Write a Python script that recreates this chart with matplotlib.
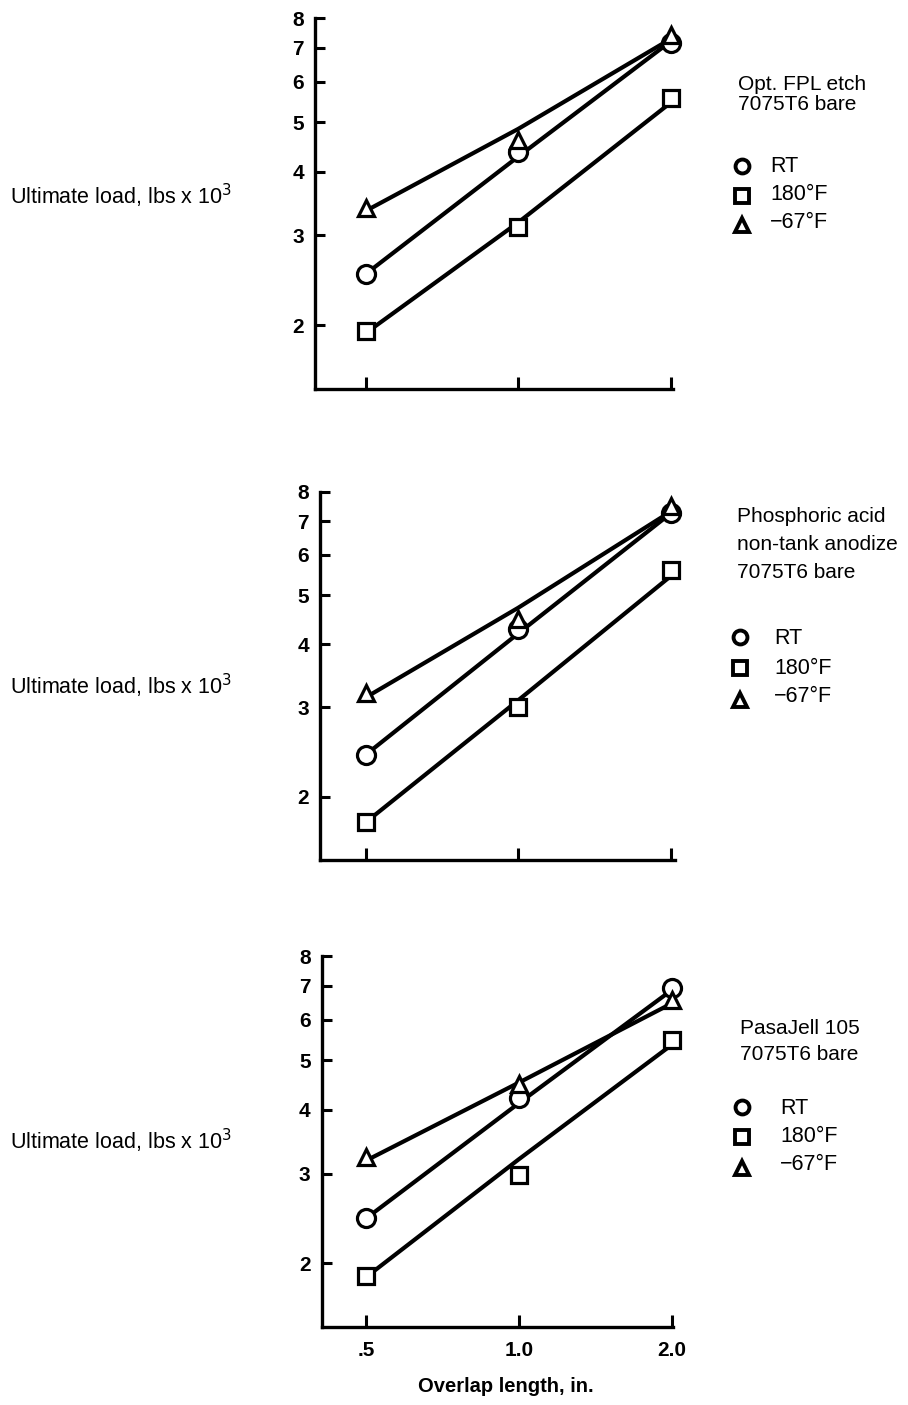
import matplotlib
matplotlib.use("Agg")
import matplotlib.pyplot as plt
from matplotlib.lines import Line2D
from matplotlib.ticker import FixedLocator, NullLocator, FixedFormatter

plt.rcParams['font.family'] = ['Liberation Sans', 'DejaVu Sans']

# ---- data ----
overlap = [0.5, 1.0, 2.0]
x_tick_labels = [".5", "1.0", "2.0"]
y_ticks = [2, 3, 4, 5, 6, 7, 8]

titles = [
    ["Opt. FPL etch", "7075T6 bare"],
    ["Phosphoric acid", "non-tank anodize", "7075T6 bare"],
    ["PasaJell 105", "7075T6 bare"],
]
series_labels = ["RT", "180\u00b0F", "\u221267\u00b0F"]

# panel 1: Opt. FPL etch
p1_rt = [2.52, 4.37, 7.15]
p1_180 = [1.95, 3.12, 5.58]
p1_m67 = [3.40, 4.62, 7.42]
p1_rt_fit = [2.52, 4.28, 7.20]
p1_180_fit = [1.93, 3.18, 5.46]
p1_m67_fit = [3.35, 4.85, 7.28]

# panel 2: Phosphoric acid non-tank anodize
p2_rt = [2.42, 4.29, 7.26]
p2_180 = [1.78, 3.01, 5.60]
p2_m67 = [3.21, 4.48, 7.48]
p2_rt_fit = [2.42, 4.20, 7.25]
p2_180_fit = [1.78, 3.10, 5.45]
p2_m67_fit = [3.14, 4.72, 7.31]

# panel 3: PasaJell 105
p3_rt = [2.45, 4.21, 6.93]
p3_180 = [1.89, 2.98, 5.47]
p3_m67 = [3.23, 4.49, 6.56]
p3_rt_fit = [2.45, 4.12, 6.86]
p3_180_fit = [1.88, 3.20, 5.36]
p3_m67_fit = [3.18, 4.52, 6.46]

panels = [
    (p1_rt, p1_180, p1_m67, p1_rt_fit, p1_180_fit, p1_m67_fit),
    (p2_rt, p2_180, p2_m67, p2_rt_fit, p2_180_fit, p2_m67_fit),
    (p3_rt, p3_180, p3_m67, p3_rt_fit, p3_180_fit, p3_m67_fit),
]

# ---- layout (pixels) ----
W, H = 908, 1405
# left, right, top(at 8), bottom, tick .5 px, tick 2.0 px
geom = [
    (315, 673, 18, 389, 365.7, 670.7),
    (320, 675, 491.7, 860, 365.7, 670.7),
    (321.7, 673, 956, 1327.3, 366, 671.7),
]
ymin, ymax = 1.5, 8.0
title_x = [738, 737, 740]
title_ys = [[85, 104], [517, 545, 572], [1029, 1055]]
legend_pos = [
    (742, 770, [166, 196, 225], [166, 195, 222]),
    (740, 774, [637, 668, 700], [639, 669, 696]),
    (742, 780, [1107, 1137, 1168], [1108, 1137, 1164]),
]
ylabel_y = [196, 686, 1141]

fig = plt.figure(figsize=(W / 100, H / 100), dpi=100)
fig.patch.set_facecolor("white")

markers = ['o', 's', '^']
msizes = [13, 11, 12]

for i, (data, g) in enumerate(zip(panels, geom)):
    L, R, T, B, t05, t2 = g
    octv = (t2 - t05) / 2.0
    xmin = 0.5 * 2 ** ((L - t05) / octv)
    xmax = 2.0 * 2 ** ((R - t2) / octv)
    ax = fig.add_axes([L / W, 1 - B / H, (R - L) / W, (B - T) / H])
    ax.set_xscale('log', base=2)
    ax.set_yscale('log')
    ax.set_xlim(xmin, xmax)
    ax.set_ylim(ymin, ymax)
    for s in ['top', 'right']:
        ax.spines[s].set_visible(False)
    for s in ['left', 'bottom']:
        ax.spines[s].set_linewidth(2.4)
    ax.xaxis.set_major_locator(FixedLocator(overlap))
    ax.xaxis.set_minor_locator(NullLocator())
    ax.yaxis.set_major_locator(FixedLocator(y_ticks))
    ax.yaxis.set_minor_locator(NullLocator())
    ax.yaxis.set_major_formatter(FixedFormatter([str(t) for t in y_ticks]))
    if i == 2:
        ax.xaxis.set_major_formatter(FixedFormatter(x_tick_labels))
    else:
        ax.xaxis.set_major_formatter(FixedFormatter(["", "", ""]))
    ax.tick_params(axis='y', direction='in', length=7, width=2.2, pad=8,
                   labelsize=15)
    ax.tick_params(axis='x', direction='in', length=9, width=2.2, pad=10,
                   labelsize=15)
    for lab in ax.get_xticklabels() + ax.get_yticklabels():
        lab.set_fontweight('bold')

    pts = data[:3]
    fits = data[3:]
    for f in fits:
        ax.plot(overlap, f, color='black', lw=3.0, solid_capstyle='round',
                solid_joinstyle='round', zorder=2)
    for p, m, ms in zip(pts, markers, msizes):
        ax.plot(overlap, p, linestyle='none', marker=m, ms=ms, mfc='white',
                mec='black', mew=2.3, zorder=3, clip_on=False)

    # titles
    for line, ty in zip(titles[i], title_ys[i]):
        fig.text(title_x[i] / W, 1 - ty / H, line, ha='left', va='center',
                 fontsize=15)
    # legend
    mx, lx, mys, lys = legend_pos[i]
    for m, my, ly, lab in zip(markers, mys, lys, series_labels):
        fig.add_artist(Line2D([mx / W], [1 - my / H], transform=fig.transFigure,
                              marker=m, ms=10, mfc='white', mec='black',
                              mew=2.8, linestyle='none'))
        fig.text(lx / W, 1 - ly / H, lab, ha='left', va='center',
                 fontsize=15.5)
    # y label
    fig.text(10 / W, 1 - ylabel_y[i] / H, "Ultimate load, lbs x 10$^3$",
             ha='left', va='center', fontsize=15.5)

fig.text(506 / W, 1 - 1387 / H, "Overlap length, in.", ha='center',
         va='center', fontsize=14.5, fontweight='bold')

fig.savefig("out.png", dpi=100, facecolor='white')
